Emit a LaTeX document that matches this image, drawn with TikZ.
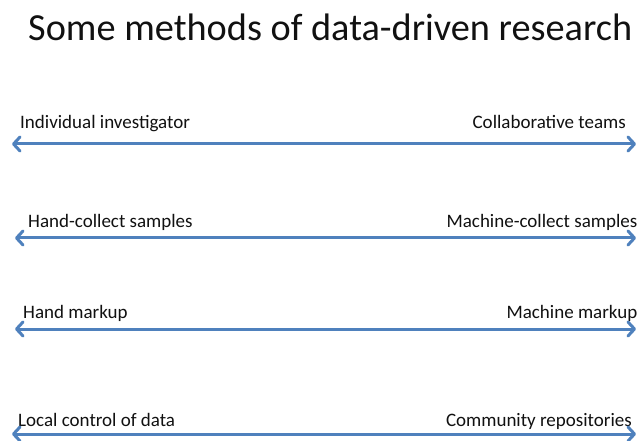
\documentclass[tikz,border=0pt]{standalone}
\usepackage{fontspec}
\setmainfont{Carlito}
\usetikzlibrary{arrows.meta}
\definecolor{arrowblue}{HTML}{4F81BD}
\definecolor{txt}{HTML}{111111}
\tikzset{
  lbl/.style={inner sep=0pt, font=\fontsize{19}{22}\selectfont, text=txt},
  lleft/.style={lbl, anchor=base west},
  lright/.style={lbl, anchor=base east},
  spectrum/.style={draw=arrowblue, line width=3pt,
    {Straight Barb[length=6.5pt,width=14pt,line join=round,line cap=round]}-{Straight Barb[length=6.5pt,width=14pt,line join=round,line cap=round]}},
  titletext/.style={inner sep=0pt, anchor=base west, font=\fontsize{38.3}{44}\selectfont, text=txt}
}
\begin{document}
\begin{tikzpicture}[x=1pt,y=-1pt]
\useasboundingbox (0,0) rectangle (638,441);
\clip (0,0) rectangle (638,441);
\fill[white] (0,0) rectangle (638,441);
\node[titletext] (title) at (28,41) {Some methods of data-driven research};
% row 1
\node[lleft] (l1) at (20,129) {Individual investigator};
\node[lright] (r1) at (626,129) {Collaborative teams};
\coordinate (a1) at (12,144);
\coordinate (b1) at (636,144);
\draw[spectrum] (a1) -- (b1);
% row 2
\node[lleft] (l2) at (28,228) {Hand-collect samples};
\node[lright] (r2) at (637.5,228) {Machine-collect samples};
\coordinate (a2) at (15,238);
\coordinate (b2) at (636,238);
\draw[spectrum] (a2) -- (b2);
% row 3
\node[lleft] (l3) at (23,318) {Hand markup};
\node[lright] (r3) at (637.5,318) {Machine markup};
\coordinate (a3) at (15,329);
\coordinate (b3) at (636,329);
\draw[spectrum] (a3) -- (b3);
% row 4
\node[lleft] (l4) at (18,426) {Local control of data};
\node[lright] (r4) at (632,426) {Community repositories};
\coordinate (a4) at (12,434);
\coordinate (b4) at (636,434);
\draw[spectrum] (a4) -- (b4);
\end{tikzpicture}
\end{document}
